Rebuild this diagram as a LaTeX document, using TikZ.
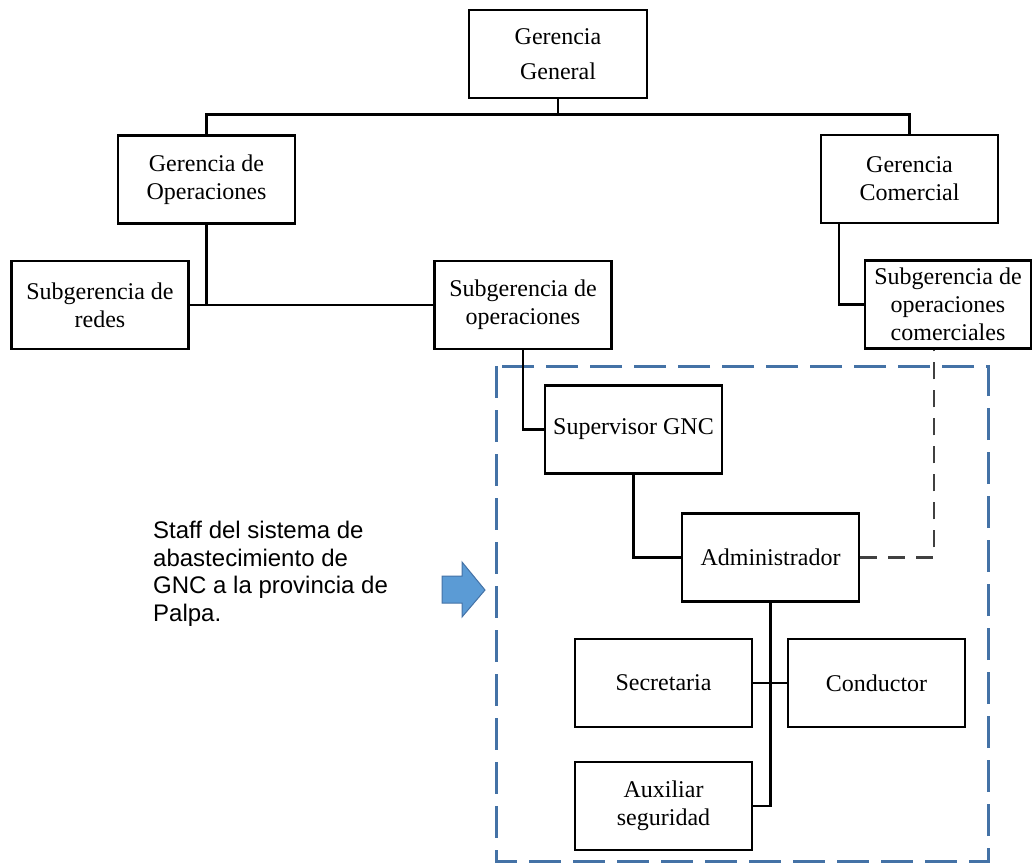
\documentclass[tikz,border=0pt]{standalone}
\usepackage{fontspec}
\setmainfont{Liberation Serif}
\newfontfamily\staffsans{Liberation Sans}
\usepackage{tikz}
\usetikzlibrary{positioning,calc}
\definecolor{staffblue}{RGB}{68,114,166}
\definecolor{arrowblue}{RGB}{91,155,213}
\definecolor{linkgrey}{RGB}{64,64,64}

\begin{document}
\begin{tikzpicture}[
  x=1pt, y=-1pt,
  orgbox/.style={draw, rectangle, minimum width=177pt, minimum height=88pt, align=center,
                 inner sep=0pt, line width=2.2pt, font=\fontsize{24}{28}\selectfont},
  conn/.style={line width=2.2pt},
  staffframe/.style={draw=staffblue, line width=3pt, dash pattern=on 32pt off 12pt},
  staffline/.style={draw=linkgrey, line width=2.2pt, dash pattern=on 17pt off 11pt},
]
\useasboundingbox (0,0) rectangle (1032,863);

% management levels
\node[orgbox, minimum width=178pt, font=\fontsize{24}{35}\selectfont] (gg) at (558,54) {Gerencia\\General};
\node[orgbox] (gop) at (206.5,179.5) {Gerencia de\\Operaciones};
\node[orgbox] (gcom) at (909.5,179) {Gerencia\\Comercial};
\node[orgbox] (sred) at (100,305) {Subgerencia de\\redes};
\node[orgbox] (sop) at (523,305) {Subgerencia de\\operaciones};
\node[orgbox, minimum width=166pt] (scom) at (948,304.5) {Subgerencia de\\operaciones\\comerciales};

% staff of the GNC station
\node[orgbox] (sup) at (633.5,429.5) {Supervisor GNC};
\node[orgbox] (adm) at (770.5,557.5) {Administrador};
\node[orgbox] (sec) at (663.5,683) {Secretaria};
\node[orgbox] (con) at (876.5,683) {Conductor};
\node[orgbox] (aux) at (663.5,806) {Auxiliar\\seguridad};

\draw[staffframe] (496,366) rectangle (988,861);

% connectors
\draw[conn] (gop.north) -- ++(0,-20) coordinate (busL) -| (gcom.north);
\draw[conn] (gg.south) -- (gg.south |- busL);
\draw[conn] (sred.east) -- (sop.west);
\draw[conn] (gop.south) -- (gop.south |- sred.east);
\draw[conn] ([xshift=19pt]gcom.south west) |- (scom.west);
\draw[conn] (sop.south) |- (sup.west);
\draw[conn] (sup.south) |- (adm.west);
\draw[conn] (adm.south) |- (aux.east);
\draw[conn] (sec.east) -- (con.west);
\draw[staffline] (adm.east) -| ([xshift=-14pt]scom.south);

% note with its arrow
\node[anchor=north west, inner sep=0pt, align=left, font=\staffsans\fontsize{24}{27.5}\selectfont]
  (note) at (153,521) {Staff del sistema de\\abastecimiento de\\GNC a la provincia de\\Palpa.};
\filldraw[fill=arrowblue, draw=staffblue, line width=1pt]
  (442,576) -- (462,576) -- (462,562) -- (485,590) -- (462,617) -- (462,603) -- (442,603) -- cycle;
\end{tikzpicture}
\end{document}
